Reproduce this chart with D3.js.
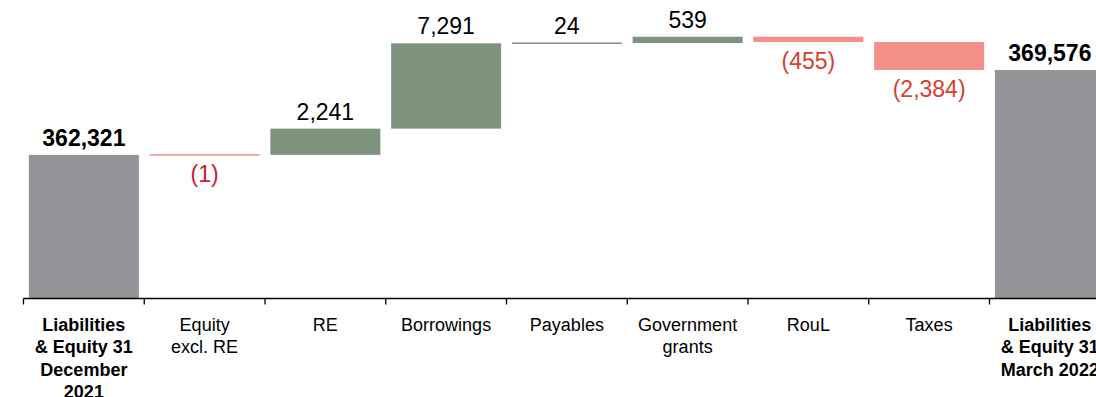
<!DOCTYPE html>
<html>
<head>
<meta charset="utf-8">
<script src="https://cdn.jsdelivr.net/npm/d3@7/dist/d3.min.js"></script>
<style>
  html, body { margin: 0; padding: 0; background: #fff; }
  svg { display: block; font-family: "Liberation Sans", Arial, sans-serif; }
</style>
</head>
<body>
<svg id="chart" width="1096" height="397"></svg>
<script>
// Bridge from opening to closing liabilities & equity
const categories = [
  "Liabilities & Equity 31 December 2021",
  "Equity excl. RE",
  "RE",
  "Borrowings",
  "Payables",
  "Government grants",
  "RouL",
  "Taxes",
  "Liabilities & Equity 31 March 2022"
];
const categoryLines = [
  ["Liabilities", "& Equity 31", "December", "2021"],
  ["Equity", "excl. RE"],
  ["RE"],
  ["Borrowings"],
  ["Payables"],
  ["Government", "grants"],
  ["RouL"],
  ["Taxes"],
  ["Liabilities", "& Equity 31", "March 2022"]
];
const openingTotal = 362321;
const closingTotal = 369576;
const changes = [-1, 2241, 7291, 24, 539, -455, -2384];

const colors = {
  total: "#939598",
  up: "#7f947f",
  down: "#f4908a",
  upText: "#111111",
  downText: "#d6412f",
  downTextSmall: "#c8202f"
};

// Build waterfall steps
const steps = [];
steps.push({ cat: categories[0], lo: 350000, hi: openingTotal, type: "total", value: openingTotal });
let running = openingTotal;
changes.forEach((d, i) => {
  const start = running;
  running += d;
  steps.push({ cat: categories[i + 1], lo: Math.min(start, running), hi: Math.max(start, running),
               type: d >= 0 ? "up" : "down", value: d });
});
steps.push({ cat: categories[8], lo: 350000, hi: closingTotal, type: "total", value: closingTotal });

const svg = d3.select("#chart");
const x0 = 23.5, step = 120.75;
const x = d3.scaleBand()
  .domain(categories)
  .range([x0, x0 + step * categories.length])
  .paddingInner(0.089)
  .paddingOuter(0.0445);

const y = d3.scaleLinear().domain([350000, 375000]).range([299, 6.5]);
const axisY = 298.5;

// Bars
svg.append("g").selectAll("rect").data(steps).join("rect")
  .attr("x", d => x(d.cat))
  .attr("width", x.bandwidth())
  .attr("y", d => {
    const h = y(d.lo) - y(d.hi);
    return h < 1.5 ? (y(d.lo) + y(d.hi)) / 2 - 0.75 : y(d.hi);
  })
  .attr("height", d => Math.max(1.5, y(d.lo) - y(d.hi)))
  .attr("fill", d => colors[d.type]);

// Value labels
const fmt = d3.format(",");
svg.append("g").selectAll("text").data(steps).join("text")
  .attr("x", d => x(d.cat) + x.bandwidth() / 2)
  .attr("y", d => d.type === "down" ? y(d.lo) + 27 : y(d.hi) - 9)
  .attr("text-anchor", "middle")
  .attr("font-size", 23)
  .attr("font-weight", d => d.type === "total" ? "bold" : "normal")
  .attr("fill", d => d.type === "down"
    ? (Math.abs(d.value) < 10 ? colors.downTextSmall : colors.downText)
    : "#000")
  .text(d => d.value < 0 ? "(" + fmt(-d.value) + ")" : fmt(d.value));

// Category axis
const axis = svg.append("g");
axis.append("line")
  .attr("x1", x0).attr("x2", 1096)
  .attr("y1", axisY).attr("y2", axisY)
  .attr("stroke", "#000").attr("stroke-width", 1.3);
const gap = (x.step() - x.bandwidth()) / 2;
axis.selectAll("line.tick").data(categories.concat([null])).join("line")
  .attr("class", "tick")
  .attr("x1", (d, i) => i < categories.length ? x(d) - gap : x(categories[i - 1]) + x.bandwidth() + gap)
  .attr("x2", (d, i) => i < categories.length ? x(d) - gap : x(categories[i - 1]) + x.bandwidth() + gap)
  .attr("y1", axisY).attr("y2", axisY + 6)
  .attr("stroke", "#000").attr("stroke-width", 1.3);

const labels = axis.selectAll("text").data(categories).join("text")
  .attr("text-anchor", "middle")
  .attr("font-size", 18)
  .attr("font-weight", (d, i) => (i === 0 || i === categories.length - 1) ? "bold" : "normal")
  .attr("fill", "#000");
labels.each(function (d, i) {
  const cx = x(d) + x.bandwidth() / 2;
  d3.select(this).selectAll("tspan").data(categoryLines[i]).join("tspan")
    .attr("x", cx)
    .attr("y", (t, j) => 330.5 + j * 22.5)
    .text(t => t);
});
</script>
</body>
</html>
